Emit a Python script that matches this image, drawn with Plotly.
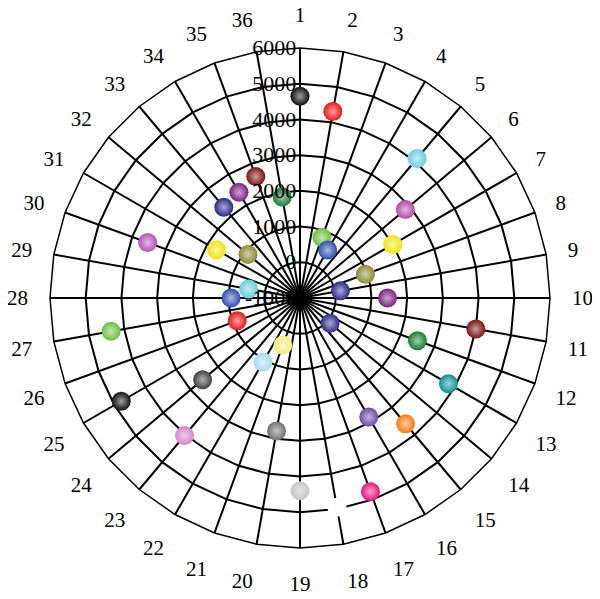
import plotly.graph_objects as go

categories = [str(i) for i in range(1, 37)]
values = [4650, 4300, 800, 550, 4100, 2850, 2000, 950, 150, 1450,
          4000, 2500, 3800, 100, 3600, 2850, 4770, 4950, 4400, 2780,
          400, 1070, 4030, 2560, 4780, 870, 4370, 930, 460, 3540,
          1700, 900, 2320, 2420, 2620, 1870]
colors = ["#111111", "#e8141c", "#6cc03c", "#2f4fb0", "#6ccce0", "#b04aa8",
          "#f2e415", "#8a8a32", "#2a2a86", "#7a2282", "#7a1414", "#1a7a34",
          "#109090", "#2a2a86", "#f57d15", "#6a4aa8", "#e8147a", "#ffffff",
          "#c4c4c4", "#707070", "#f4ee80", "#a4dcf0", "#d884c4", "#404040",
          "#111111", "#e8141c", "#6cc03c", "#2f4fb0", "#6ccce0", "#b454b4",
          "#f2e415", "#8a8a32", "#2a2a86", "#7a2282", "#7a1414", "#1a7a34"]
radial_ticks = [-1000, 0, 1000, 2000, 3000, 4000, 5000, 6000]

# Plotly's linear-gridshape polar hides points near a negative range start,
# so the radial axis is expressed relative to its minimum (-1000) and
# relabelled with the original tick values.
r_min = radial_ticks[0]
r_plot = [v - r_min for v in values]
tick_pos = [t - r_min for t in radial_ticks]
tick_txt = [str(t) for t in radial_ticks]


def tint(hex_color, f=0.6):
    h = hex_color.lstrip("#")
    rgb = [int(h[i:i + 2], 16) for i in (0, 2, 4)]
    rgb = [round(c + (255 - c) * f) for c in rgb]
    return "#%02x%02x%02x" % tuple(rgb)


grad = [tint(c) for c in colors]

fig = go.Figure()
fig.add_trace(go.Scatterpolar(
    r=r_plot, theta=categories, mode="markers",
    marker=dict(size=19, color=colors, line=dict(width=0),
                gradient=dict(type="radial", color=grad)),
    customdata=values, hovertemplate="%{theta}: %{customdata}<extra></extra>",
    cliponaxis=False, showlegend=False,
))

fig.update_layout(
    width=592, height=591,
    margin=dict(l=42, r=50, t=40, b=51),
    paper_bgcolor="white",
    font=dict(family="Liberation Serif", size=21, color="black"),
    polar=dict(
        bgcolor="white",
        gridshape="linear",
        angularaxis=dict(
            type="category", categoryarray=categories,
            direction="clockwise", rotation=90,
            showgrid=True, gridcolor="black", gridwidth=1.5,
            showline=True, linecolor="black", linewidth=1.5,
            ticks="outside", ticklen=17, tickcolor="rgba(0,0,0,0)",
            tickfont=dict(family="Liberation Serif", size=21, color="black"),
        ),
        radialaxis=dict(
            range=[0, tick_pos[-1]], tickvals=tick_pos, ticktext=tick_txt,
            angle=90, tickangle=90, side="counterclockwise",
            showgrid=True, gridcolor="black", gridwidth=1.5,
            showline=False, ticks="",
            tickfont=dict(family="Liberation Serif", size=22, color="black"),
        ),
    ),
)

fig.write_html("out.html")
